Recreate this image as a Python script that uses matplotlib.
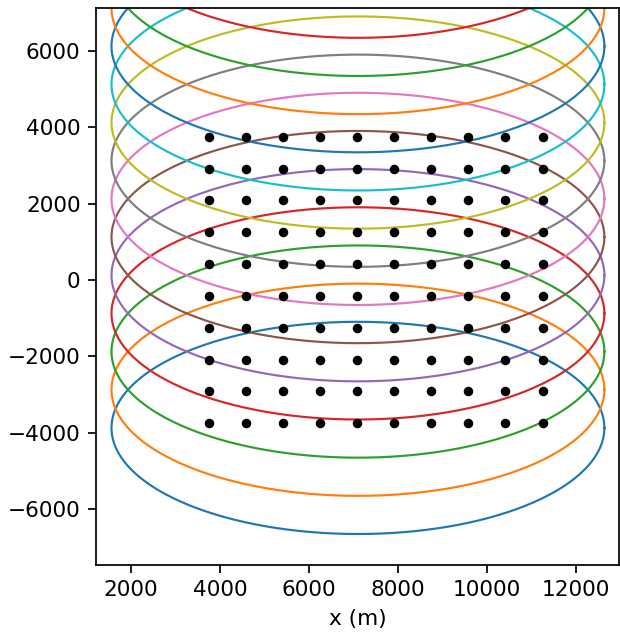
import numpy as np
import matplotlib
matplotlib.use("Agg")
import matplotlib.pyplot as plt

# Receiver grid (m)
grid_x = np.linspace(3750, 11250, 10)
grid_y = np.linspace(-3750, 3750, 10)

# Elliptical footprints: common x centre and semi-axes, stepped y centres (m)
ellipse_xc = 7100
ellipse_yc = [-3875, -2875, -1875, -875, 125, 1125, 2125, 3125,
              4125, 5125, 6125, 7125, 8125, 9125]
semi_a = 5540
semi_b = 2780

DPI = 156
W, H = 620, 635
fig = plt.figure(figsize=(W / DPI, H / DPI), dpi=DPI)
ax = fig.add_axes([95.7 / W, (H - 565) / H, (619.5 - 95.7) / W, (565 - 8) / H])

t = np.linspace(0, 2 * np.pi, 400)
for yc in ellipse_yc:
    ax.plot(ellipse_xc + semi_a * np.cos(t), yc + semi_b * np.sin(t), lw=1.0)

gx, gy = np.meshgrid(grid_x, grid_y)
ax.plot(gx.ravel(), gy.ravel(), "o", color="k", markersize=3.4, lw=0)

ax.set_xlim(1205, 12980)
ax.set_ylim(-7467, 7126)
ax.set_xticks([2000, 4000, 6000, 8000, 10000, 12000])
ax.set_yticks([-6000, -4000, -2000, 0, 2000, 4000, 6000])
ax.set_xlabel("x (m)")

fig.savefig("out.png", dpi=DPI)
